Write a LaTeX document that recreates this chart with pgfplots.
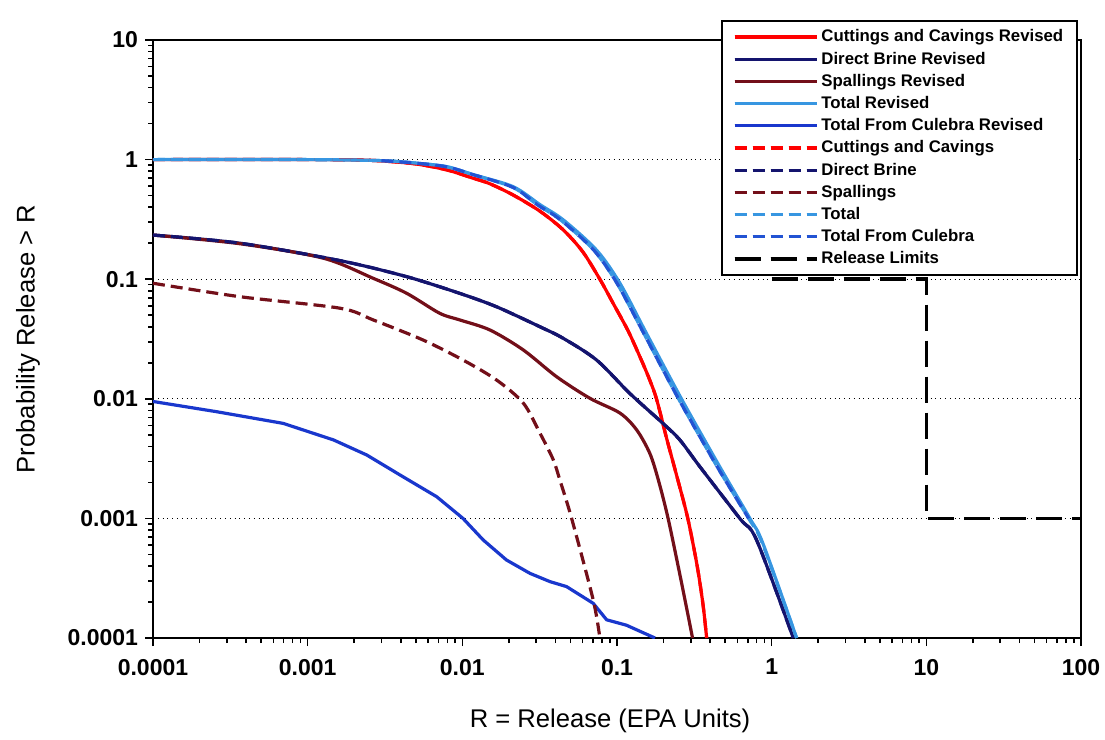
\documentclass[border=0pt]{standalone}
\usepackage{fontspec}
\setmainfont{Liberation Sans}
\usepackage{pgfplots}
\pgfplotsset{compat=1.18}
\definecolor{cutred}{RGB}{255,0,0}
\definecolor{brine}{RGB}{20,20,110}
\definecolor{spall}{RGB}{115,15,25}
\definecolor{totblue}{RGB}{55,150,225}
\definecolor{culblue}{RGB}{25,55,205}
\begin{document}
\begin{tikzpicture}
\path[use as bounding box] (-76.5pt,-51pt) rectangle (476pt,319pt);
\begin{loglogaxis}[
  scale only axis, width=464pt, height=299pt,
  xmin=1e-4, xmax=100, ymin=1e-4, ymax=10,
  xtick={1e-4,1e-3,1e-2,1e-1,1,10,100},
  xticklabels={0.0001,0.001,0.01,0.1,1,10,100},
  ytick={1e-4,1e-3,1e-2,1e-1,1,10},
  yticklabels={0.0001,0.001,0.01,0.1,1,10},
  tick pos=left, tick align=outside,
  major tick length=4pt, minor tick length=2.5pt,
  axis line style={line width=0.9pt},
  every tick/.append style={black, line width=0.8pt},
  ymajorgrids, major grid style={dotted, black, line width=0.6pt},
  ticklabel style={font=\bfseries\fontsize{11.5}{13}\selectfont},
  xticklabel style={yshift=-3pt},
  xlabel={R = Release (EPA Units)},
  ylabel={Probability Release \textgreater{} R},
  xlabel style={font=\fontsize{12.8}{15}\selectfont, at={(axis description cs:0.4925,-0.149)}, anchor=base},
  ylabel style={font=\fontsize{12.8}{15}\selectfont, at={(axis description cs:-0.1347,0.5)}, anchor=center},
  legend image code/.code={\draw[#1] (0pt,0pt) -- (36.5pt,0pt); \path (0pt,0pt) -- (41pt,0pt);},
  legend cell align=left,
  legend style={at={(0.9968,1.0334)}, anchor=north east, draw=black, line width=0.8pt,
    font=\bfseries\fontsize{8.4}{10}\selectfont, fill=white,
    inner xsep=5.5pt, inner ysep=2.5pt,
    nodes={inner sep=1.5pt, text height=6.5pt, text depth=1.6pt}},
  every axis plot/.append style={line width=1.6pt},
]
% Cuttings and Cavings Revised
\addplot[cutred, smooth, tension=0.5] coordinates {(1e-4,1.0) (0.001,1.0) (0.002,0.995) (0.003,0.975) (0.005,0.92) (0.00794,0.82) (0.0117,0.70) (0.015,0.63) (0.0213,0.506) (0.0318,0.37) (0.045,0.258) (0.06,0.17) (0.0775,0.10) (0.095,0.062) (0.118,0.037) (0.1406,0.0225) (0.16,0.0152) (0.18,0.01) (0.21,0.0046) (0.245,0.0022) (0.287,0.001) (0.33,0.0004) (0.36,0.00019) (0.38,0.0001)};
\addlegendentry{Cuttings and Cavings Revised}
% Direct Brine Revised
\addplot[brine, smooth, tension=0.5] coordinates {(1e-4,0.234) (0.000365,0.20) (0.00162,0.143) (0.00437,0.105) (0.00966,0.076) (0.0166,0.0589) (0.0318,0.040) (0.045,0.032) (0.0738,0.0211) (0.121,0.0111) (0.199,0.0062) (0.255,0.00453) (0.344,0.0027) (0.622,0.001) (0.799,0.00066) (1.38,0.0001)};
\addlegendentry{Direct Brine Revised}
% Spallings Revised
\addplot[spall, smooth, tension=0.5] coordinates {(1e-4,0.234) (0.000365,0.198) (0.00126,0.150) (0.00266,0.1016) (0.00437,0.0762) (0.00714,0.0519) (0.00966,0.0456) (0.0151,0.0376) (0.0248,0.0256) (0.0407,0.0153) (0.0668,0.0101) (0.1045,0.0076) (0.134,0.0055) (0.163,0.0035) (0.185,0.0021) (0.214,0.001) (0.26,0.0003) (0.308,0.0001)};
\addlegendentry{Spallings Revised}
% Total Revised
\addplot[totblue, smooth, tension=0.5] coordinates {(1e-4,1.0) (0.001,1.0) (0.003,0.98) (0.005,0.935) (0.00794,0.873) (0.0117,0.75) (0.0213,0.594) (0.0318,0.42) (0.045,0.313) (0.0738,0.175) (0.1045,0.0925) (0.155,0.0353) (0.261,0.01) (0.462,0.0027) (0.723,0.001) (0.877,0.00062) (1.45,0.0001)};
\addlegendentry{Total Revised}
% Total From Culebra Revised
\addplot[culblue] coordinates {(1e-4,0.0095) (0.000258,0.0078) (0.000695,0.00623) (0.00147,0.00453) (0.00241,0.00339) (0.00395,0.00231) (0.00682,0.00152) (0.0101,0.001) (0.01365,0.00066) (0.0193,0.000449) (0.0274,0.000347) (0.0369,0.000296) (0.0472,0.000269) (0.0702,0.000195) (0.0857,0.000142) (0.115,0.000128) (0.176,0.0001)};
\addlegendentry{Total From Culebra Revised}
% Cuttings and Cavings
\addplot[cutred, smooth, tension=0.5, dash pattern=on 6pt off 3pt] coordinates {(1e-4,1.0) (0.001,1.0) (0.002,0.995) (0.003,0.975) (0.005,0.92) (0.00794,0.82) (0.0117,0.70) (0.015,0.63) (0.0213,0.506) (0.0318,0.37) (0.045,0.258) (0.06,0.17) (0.0775,0.10) (0.095,0.062) (0.118,0.037) (0.1406,0.0225) (0.16,0.0152) (0.18,0.01) (0.21,0.0046) (0.245,0.0022) (0.287,0.001) (0.33,0.0004) (0.36,0.00019) (0.38,0.0001)};
\addlegendentry{Cuttings and Cavings}
% Direct Brine
\addplot[brine, smooth, tension=0.5, dash pattern=on 6pt off 3pt] coordinates {(1e-4,0.234) (0.000365,0.20) (0.00162,0.143) (0.00437,0.105) (0.00966,0.076) (0.0166,0.0589) (0.0318,0.040) (0.045,0.032) (0.0738,0.0211) (0.121,0.0111) (0.199,0.0062) (0.255,0.00453) (0.344,0.0027) (0.622,0.001) (0.799,0.00066) (1.38,0.0001)};
\addlegendentry{Direct Brine}
% Spallings
\addplot[spall, smooth, tension=0.5, dash pattern=on 6pt off 3pt] coordinates {(1e-4,0.0925) (0.000365,0.0714) (0.00162,0.0572) (0.00266,0.0456) (0.00558,0.031) (0.0101,0.0211) (0.0166,0.0144) (0.0248,0.0092) (0.0318,0.00515) (0.0387,0.0031) (0.0427,0.0021) (0.0509,0.001) (0.0702,0.000208) (0.0775,0.0001)};
\addlegendentry{Spallings}
% Total
\addplot[totblue, smooth, tension=0.5, dash pattern=on 6pt off 3pt] coordinates {(1e-4,1.0) (0.001,1.0) (0.003,0.98) (0.005,0.935) (0.00794,0.87) (0.0117,0.75) (0.0213,0.585) (0.0305,0.42) (0.0432,0.313) (0.0708,0.175) (0.1,0.0925) (0.149,0.0353) (0.25,0.01) (0.445,0.0027) (0.71,0.001) (0.87,0.00062) (1.45,0.0001)};
\addlegendentry{Total}
% Total From Culebra
\addplot[culblue!70!totblue, smooth, tension=0.5, dash pattern=on 6pt off 3pt] coordinates {(0.003,0.98) (0.005,0.935) (0.00794,0.87) (0.0117,0.75) (0.0213,0.585) (0.0305,0.42) (0.0432,0.313) (0.0708,0.175) (0.1,0.0925) (0.149,0.0353) (0.25,0.01) (0.445,0.0027) (0.71,0.001)};
\addlegendentry{Total From Culebra}
% Release Limits
\addplot[black, line width=1.8pt, dash pattern=on 13pt off 5pt] coordinates {(1,0.1) (10,0.1) (10,0.001) (100,0.001)};
\addlegendentry{Release Limits}
\end{loglogaxis}
\end{tikzpicture}
\end{document}
